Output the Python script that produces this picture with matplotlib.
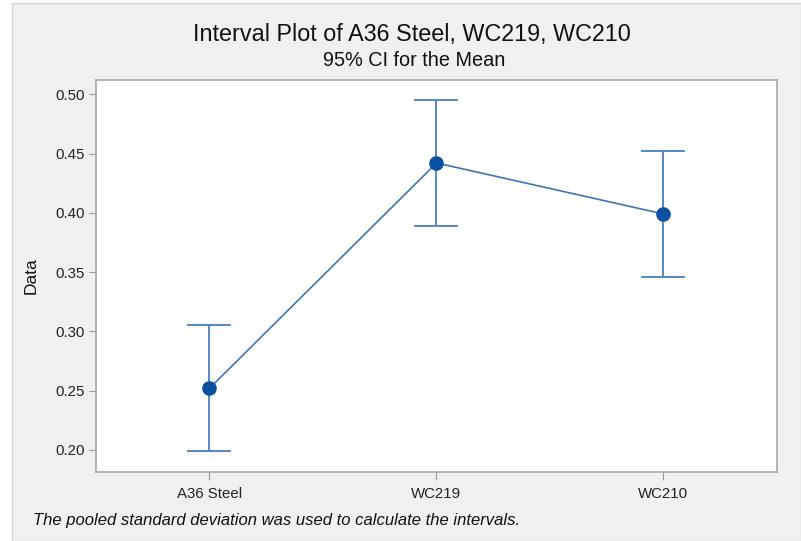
import numpy as np
import matplotlib.pyplot as plt
from matplotlib.patches import Rectangle

plt.rcParams['font.family'] = ['Liberation Sans', 'DejaVu Sans']

categories = ['A36 Steel', 'WC219', 'WC210']
means = [0.252, 0.442, 0.399]
lower = [0.199, 0.389, 0.346]
upper = [0.305, 0.495, 0.452]

W, H = 801, 541
fig = plt.figure(figsize=(W / 100, H / 100), dpi=100)
fig.patch.set_facecolor('white')

# minitab-style gray panel behind everything
fig.patches.append(Rectangle((12 / W, 0), 1 - 12 / W, 1 - 3 / H, transform=fig.transFigure,
                             facecolor='#f0f0f0', edgecolor='#d8d8d8', lw=1, zorder=-5))

ax = fig.add_axes([96 / W, 1 - 471.5 / H, (777 - 96) / W, (471.5 - 80) / H])
ax.set_zorder(2)
ax.set_facecolor('white')

x = np.arange(len(categories))
m = np.array(means)
err = [m - np.array(lower), np.array(upper) - m]

ax.errorbar(x, m, yerr=err, fmt='none', ecolor='#4a7fbf', elinewidth=1.3,
            capsize=16, capthick=1.3, zorder=2)
ax.plot(x, m, color='#3f74b8', lw=1.2, zorder=3)
ax.plot(x, m, 'o', color='#0b4fa0', ms=9.5, zorder=4)

ax.set_xlim(-0.5, 2.5)
ax.set_ylim(0.1818, 0.512)
ax.set_yticks([0.20, 0.25, 0.30, 0.35, 0.40, 0.45, 0.50])
ax.set_yticklabels(['%.2f' % v for v in ax.get_yticks()])
ax.set_xticks(x)
ax.set_xticklabels(categories)
ax.tick_params(axis='both', labelsize=10.8, color='#999999', width=0.8, labelcolor='#222222')
ax.tick_params(axis='x', length=6, pad=5)
ax.tick_params(axis='y', length=5, pad=3)
for s in ax.spines.values():
    s.set_color('#a8a8a8')
    s.set_linewidth(1.2)

ax.set_ylabel('Data', fontsize=12.5, color='#111111', labelpad=12)

fig.text(412 / W, 1 - 34 / H, 'Interval Plot of A36 Steel, WC219, WC210', ha='center', va='center',
         fontsize=16.8, color='#111111')
fig.text(414 / W, 1 - 61 / H, '95% CI for the Mean', ha='center', va='center',
         fontsize=14.3, color='#111111')
fig.text(33 / W, 1 - 521 / H, 'The pooled standard deviation was used to calculate the intervals.',
         ha='left', va='center', fontsize=12, style='italic', color='#111111')

fig.savefig('out.png', dpi=100)
